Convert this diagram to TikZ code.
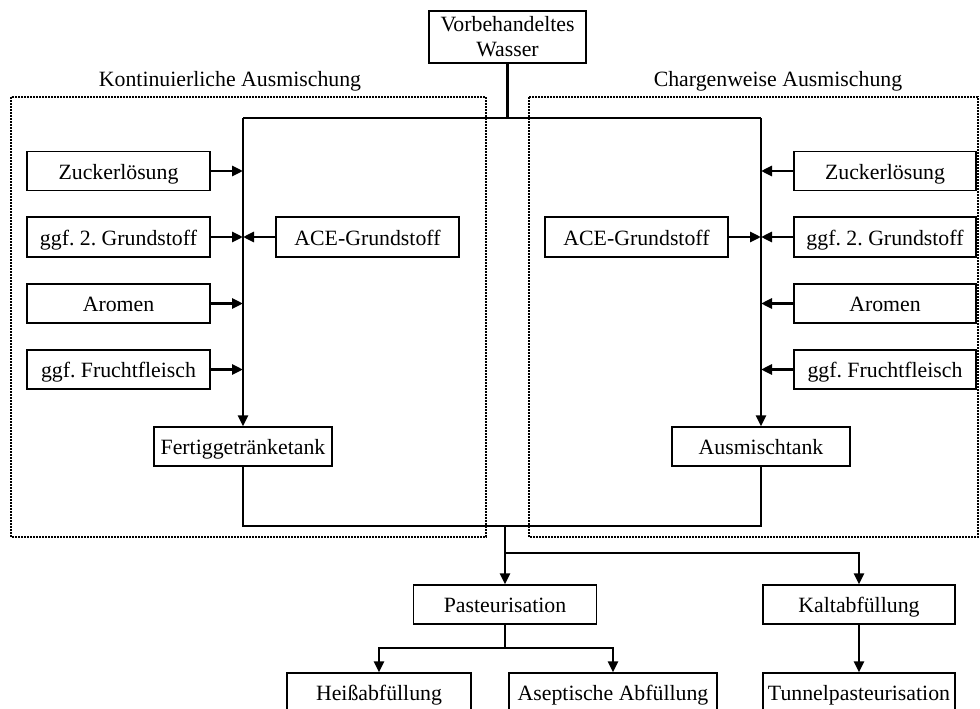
\documentclass[tikz,border=0pt]{standalone}
\usepackage{fontspec}
\setmainfont{Liberation Serif}
\usetikzlibrary{arrows.meta}
\frenchspacing
\begin{document}
\begin{tikzpicture}[x=1pt,y=-1pt,
  font=\fontsize{21.8pt}{25pt}\selectfont,
  box/.style={draw, line width=1.4pt, inner sep=0pt, minimum height=39pt,
    text height=20pt, text depth=4pt, fill=white},
  flow/.style={line width=2.8pt},
  arr/.style={flow, -{Triangle[length=11pt,width=10pt]}},
  group/.style={line width=2pt, densely dotted}]
\useasboundingbox (0,0) rectangle (980,709);

% group frames and their titles
\draw[group] (11,97) rectangle (486,537);
\draw[group] (529,97) rectangle (978,537);
\node[anchor=base] (tK) at (230,87) {Kontinuierliche Ausmischung};
\node[anchor=base] (tC) at (778,87) {Chargenweise Ausmischung};

% source
\node[draw, line width=1.4pt, inner sep=0pt, minimum width=157pt, minimum height=52pt, align=center, fill=white] (wasser) at (507.5,37) {Vorbehandeltes\\Wasser};

% continuous mixing
\node[box, minimum width=183pt] (zl1) at (118.5,171) {Zuckerlösung};
\node[box, minimum width=183pt, minimum height=40pt] (gs1) at (118.5,237) {ggf. 2. Grundstoff};
\node[box, minimum width=183pt, minimum height=40pt] (ace1) at (367.5,237) {ACE-Grundstoff};
\node[box, minimum width=183pt] (ar1) at (118.5,303.5) {Aromen};
\node[box, minimum width=183pt] (ff1) at (118.5,369.5) {ggf. Fruchtfleisch};
\node[box, minimum width=178pt] (ftank) at (243,446.5) {Fertiggetränketank};

% batch mixing
\node[box, minimum width=182pt] (zl2) at (885,171) {Zuckerlösung};
\node[box, minimum width=182pt, minimum height=40pt] (gs2) at (885,237) {ggf. 2. Grundstoff};
\node[box, minimum width=183pt, minimum height=40pt] (ace2) at (636.5,237) {ACE-Grundstoff};
\node[box, minimum width=182pt] (ar2) at (885,303.5) {Aromen};
\node[box, minimum width=182pt] (ff2) at (885,369.5) {ggf. Fruchtfleisch};
\node[box, minimum width=178pt] (mtank) at (761,446.5) {Ausmischtank};

% downstream treatment
\node[box, minimum width=183pt] (past) at (505,604.5) {Pasteurisation};
\node[box, minimum width=192pt] (kalt) at (859,604.5) {Kaltabfüllung};
\node[box, minimum width=184pt] (heiss) at (379,692.5) {Heißabfüllung};
\node[box, minimum width=208pt] (asep) at (613,692.5) {Aseptische Abfüllung};
\node[box, minimum width=192pt] (tunnel) at (859,692.5) {Tunnelpasteurisation};

% junction points
\coordinate (topL) at (243,118);
\coordinate (topR) at (761,118);
\coordinate (jn) at (505,526);
\coordinate (br1) at (505,553);
\coordinate (br2) at (505,648);

% water distribution
\draw[flow] (wasser.south) -- (wasser.south |- topL);
\draw[flow] (topL) -- (topR);
\draw[arr] (topL) -- (ftank.north);
\draw[arr] (topR) -- (mtank.north);

% ingredient feeds
\draw[arr] (zl1.east) -- (zl1.east -| ftank.north);
\draw[arr] (gs1.east) -- (gs1.east -| ftank.north);
\draw[arr] (ace1.west) -- (ace1.west -| ftank.north);
\draw[arr] (ar1.east) -- (ar1.east -| ftank.north);
\draw[arr] (ff1.east) -- (ff1.east -| ftank.north);
\draw[arr] (zl2.west) -- (zl2.west -| mtank.north);
\draw[arr] (gs2.west) -- (gs2.west -| mtank.north);
\draw[arr] (ace2.east) -- (ace2.east -| mtank.north);
\draw[arr] (ar2.west) -- (ar2.west -| mtank.north);
\draw[arr] (ff2.west) -- (ff2.west -| mtank.north);

% tank outlets merge
\draw[flow] (ftank.south) |- (jn) -| (mtank.south);
\draw[arr] (jn) -- (past.north);
\draw[arr] (br1) -| (kalt.north);

% filling lines
\draw[flow] (past.south) -- (br2);
\draw[arr] (br2) -| (heiss.north);
\draw[arr] (br2) -| (asep.north);
\draw[arr] (kalt.south) -- (tunnel.north);
\end{tikzpicture}
\end{document}
